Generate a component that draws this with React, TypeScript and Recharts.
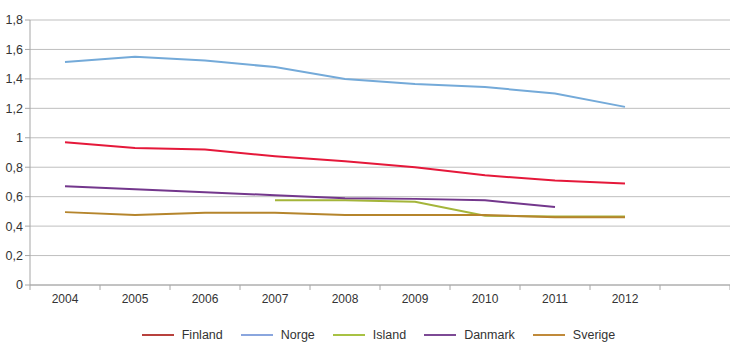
import React from "react";
import {
  LineChart,
  Line,
  XAxis,
  YAxis,
  CartesianGrid,
  Legend,
} from "recharts";

// the last category is empty, as in the original (axis runs one step past 2012)
const years = ["2004", "2005", "2006", "2007", "2008", "2009", "2010", "2011", "2012", ""];

const finland = [0.97, 0.93, 0.92, 0.875, 0.84, 0.8, 0.745, 0.71, 0.69, null];
const norge = [1.515, 1.55, 1.525, 1.48, 1.4, 1.365, 1.345, 1.3, 1.21, null];
const island = [null, null, null, 0.575, 0.575, 0.565, 0.47, 0.465, 0.465, null];
const danmark = [0.67, 0.65, 0.63, 0.61, 0.59, 0.585, 0.575, 0.53, null, null];
const sverige = [0.495, 0.475, 0.49, 0.49, 0.475, 0.475, 0.475, 0.46, 0.46, null];

const yTicks = [0, 0.2, 0.4, 0.6, 0.8, 1, 1.2, 1.4, 1.6, 1.8];

const series = [
  { key: "Finland", values: finland, color: "#E5183A", legendColor: "#B8413D" },
  { key: "Norge", values: norge, color: "#74AAD9", legendColor: "#8AA6DE" },
  { key: "Island", values: island, color: "#A4B53A", legendColor: "#A8C244" },
  { key: "Danmark", values: danmark, color: "#73378C", legendColor: "#7D4A95" },
  { key: "Sverige", values: sverige, color: "#B5852C", legendColor: "#C08A3A" },
];

const data = years.map((year, i) => {
  const row: Record<string, string | number | null> = { year };
  series.forEach((s) => {
    row[s.key] = s.values[i];
  });
  return row;
});

const W = 730;
const H = 359;
const Y_AXIS_W = 30;
const BAND = (W - Y_AXIS_W) / years.length;
const FONT = "'Liberation Sans', Arial, sans-serif";

const fmt = (v: number) => String(v).replace(".", ",");

// category label in the middle, tick marks on the band edges
const XTick = (props: any) => {
  const { x, y, payload, index } = props;
  const axisY = y - 9;
  return (
    <g>
      <line x1={x - BAND / 2} y1={axisY} x2={x - BAND / 2} y2={axisY + 5} stroke="#A6A6A6" />
      {index === years.length - 1 && (
        <line x1={x + BAND / 2} y1={axisY} x2={x + BAND / 2} y2={axisY + 5} stroke="#A6A6A6" />
      )}
      <text x={x} y={y} dy="0.71em" textAnchor="middle" fill="#333" fontSize={12} fontFamily={FONT}>
        {payload.value}
      </text>
    </g>
  );
};

const LegendContent = () => (
  <div
    style={{
      display: "flex",
      justifyContent: "center",
      alignItems: "center",
      height: 20,
      fontFamily: FONT,
      fontSize: 12.5,
      color: "#333",
      paddingLeft: 27,
    }}
  >
    {series.map((s, i) => (
      <div
        key={s.key}
        style={{ display: "flex", alignItems: "center", marginRight: i < series.length - 1 ? 18 : 0 }}
      >
        <span
          style={{
            display: "inline-block",
            width: 32,
            height: 2,
            background: s.legendColor,
            marginRight: 8,
          }}
        />
        <span>{s.key}</span>
      </div>
    ))}
  </div>
);

export default function App() {
  return (
    <div style={{ position: "absolute", left: 0, top: 0, width: W, height: H, background: "#fff" }}>
      <LineChart
        width={W}
        height={H}
        data={data}
        margin={{ top: 20, right: 0, bottom: 14, left: 0 }}
      >
        <CartesianGrid vertical={false} stroke="#BFBFBF" />
        <XAxis
          dataKey="year"
          stroke="#A6A6A6"
          tickLine={false}
          tickSize={5}
          tickMargin={4}
          height={40}
          interval={0}
          padding={{ left: BAND / 2, right: BAND / 2 }}
          tick={<XTick />}
        />
        <YAxis
          width={Y_AXIS_W}
          domain={[0, 1.8]}
          ticks={yTicks}
          stroke="#A6A6A6"
          tickSize={5}
          tickMargin={2}
          tickFormatter={fmt}
          tick={{ fill: "#333", fontSize: 12.5, fontFamily: FONT }}
        />
        <Legend verticalAlign="bottom" height={20} content={<LegendContent />} />
        {series.map((s) => (
          <Line
            key={s.key}
            dataKey={s.key}
            stroke={s.color}
            strokeWidth={2}
            dot={false}
            isAnimationActive={false}
            type="linear"
          />
        ))}
      </LineChart>
    </div>
  );
}
